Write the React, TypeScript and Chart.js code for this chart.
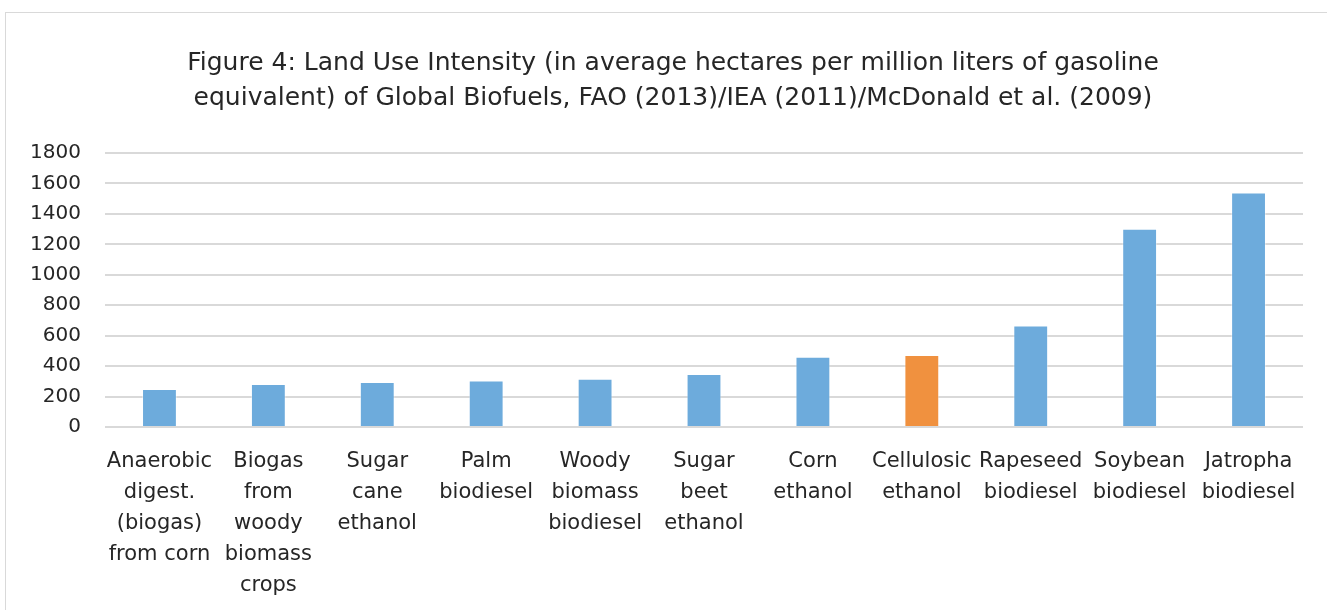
import React, { useEffect, useRef } from "react";
import { Chart, registerables } from "chart.js";

Chart.register(...registerables);

const categories: string[][] = [
  ["Anaerobic", "digest.", "(biogas)", "from corn"],
  ["Biogas", "from", "woody", "biomass", "crops"],
  ["Sugar", "cane", "ethanol"],
  ["Palm", "biodiesel"],
  ["Woody", "biomass", "biodiesel"],
  ["Sugar", "beet", "ethanol"],
  ["Corn", "ethanol"],
  ["Cellulosic", "ethanol"],
  ["Rapeseed", "biodiesel"],
  ["Soybean", "biodiesel"],
  ["Jatropha", "biodiesel"],
];

const landUse: number[] = [250, 283, 296, 306, 317, 348, 462, 473, 666, 1303, 1540];

const highlighted: string[] = ["Cellulosic"];

const titleLines: string[] = [
  "Figure 4: Land Use Intensity (in average hectares per million liters of gasoline",
  "equivalent) of Global Biofuels, FAO (2013)/IEA (2011)/McDonald et al. (2009)",
];

const BLUE = "#6dabdc";
const ORANGE = "#f0913f";
const TEXT = "#262626";
const FONT = "'DejaVu Sans', sans-serif";

export default function App() {
  const ref = useRef<HTMLCanvasElement | null>(null);

  useEffect(() => {
    document.body.style.margin = "0";
    const canvas = ref.current;
    if (!canvas) return;
    const colors = categories.map((c) => (highlighted.includes(c[0]) ? ORANGE : BLUE));
    const chart = new Chart(canvas, {
      type: "bar",
      data: {
        labels: categories,
        datasets: [
          {
            data: landUse,
            backgroundColor: colors,
            borderColor: "rgba(255,255,255,0.4)",
            borderWidth: 1,
            barPercentage: 0.32,
            categoryPercentage: 1,
          },
        ],
      },
      options: {
        animation: false,
        responsive: false,
        maintainAspectRatio: false,
        devicePixelRatio: 1,
        layout: { padding: { left: 0, right: 0, top: 46, bottom: 0 } },
        plugins: {
          legend: { display: false },
          tooltip: { enabled: false },
          title: {
            display: true,
            text: titleLines,
            color: TEXT,
            font: { family: FONT, size: 25, weight: "normal", lineHeight: 35 / 25 },
            padding: { top: 0, bottom: 37 },
          },
        },
        scales: {
          x: {
            grid: { display: false, drawTicks: false },
            border: { display: false },
            ticks: {
              color: TEXT,
              font: { family: FONT, size: 21, lineHeight: 31 / 21 },
              padding: 19,
              maxRotation: 0,
              autoSkip: false,
            },
            afterFit: (scale: any) => {
              scale.height = 183;
            },
          },
          y: {
            position: "left",
            min: 0,
            max: 1800,
            grid: { color: "#d9d9d9", lineWidth: 2, drawTicks: false },
            border: { display: false },
            ticks: {
              stepSize: 200,
              color: TEXT,
              font: { family: FONT, size: 20 },
              padding: 24,
              callback: (v: any) => String(v),
            },
            afterFit: (scale: any) => {
              scale.width = 105;
            },
          },
          yRight: {
            position: "right",
            display: true,
            min: 0,
            max: 1800,
            grid: { display: false, drawTicks: false },
            border: { display: false },
            ticks: { display: false },
            afterFit: (scale: any) => {
              scale.width = 43;
            },
          },
        },
      },
    });
    return () => chart.destroy();
  }, []);

  return (
    <div style={{ position: "relative", width: 1327, height: 610, overflow: "hidden", background: "#fff" }}>
      <div
        style={{
          position: "absolute",
          left: 5,
          top: 12,
          width: 1360,
          height: 640,
          border: "1px solid #d9d9d9",
          boxSizing: "border-box",
        }}
      />
      <canvas ref={ref} width={1346} height={610} style={{ position: "absolute", left: 0, top: 0 }} />
    </div>
  );
}
